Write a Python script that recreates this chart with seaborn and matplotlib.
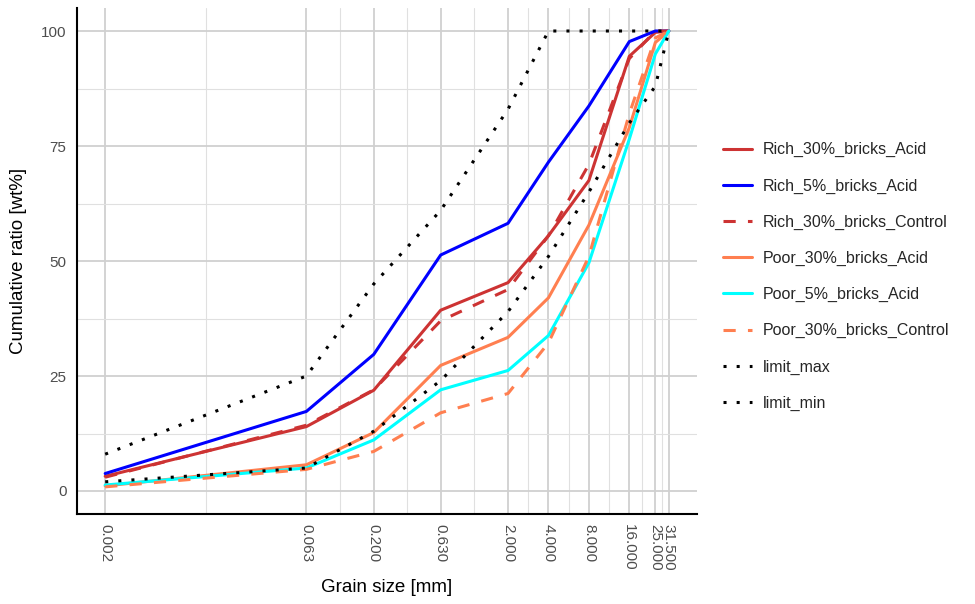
import numpy as np
import pandas as pd
import matplotlib
matplotlib.use("Agg")
import matplotlib.pyplot as plt
from matplotlib.ticker import NullFormatter
import seaborn as sns

# grain sizes [mm] and cumulative ratio [wt%]
grain_size = [0.002, 0.063, 0.2, 0.63, 2.0, 4.0, 8.0, 16.0, 25.0, 31.5]

rich_30_acid = [3.2, 14.0, 21.9, 39.3, 45.3, 55.5, 67.5, 94.5, 99.7, 100]
rich_5_acid = [3.8, 17.3, 29.7, 51.3, 58.2, 71.5, 83.7, 97.7, 100, 100]
rich_30_control = [3.0, 14.3, 22.0, 37.0, 43.8, 55.5, 71.0, 94.0, 100, 100]
poor_30_acid = [1.1, 5.7, 12.7, 27.3, 33.4, 42.0, 57.8, 79.0, 97.5, 100]
poor_5_acid = [1.3, 5.0, 11.1, 22.0, 26.2, 33.8, 49.6, 76.5, 95.0, 100]
poor_30_control = [0.9, 4.7, 8.6, 17.0, 21.2, 32.2, 51.0, 82.0, 98.5, 100]
limit_max = [8, 25, 45, 61, 83, 100, 100, 100, 100, 100]
limit_min = [2, 5, 13, 24, 39, 51, 65, 80, 88, 100]

series_names = ["Rich_30%_bricks_Acid", "Rich_5%_bricks_Acid", "Rich_30%_bricks_Control",
                "Poor_30%_bricks_Acid", "Poor_5%_bricks_Acid", "Poor_30%_bricks_Control",
                "limit_max", "limit_min"]
series_values = [rich_30_acid, rich_5_acid, rich_30_control, poor_30_acid,
                 poor_5_acid, poor_30_control, limit_max, limit_min]

colors = {"Rich_30%_bricks_Acid": "#CD3333", "Rich_5%_bricks_Acid": "#0000FF",
          "Rich_30%_bricks_Control": "#CD3333", "Poor_30%_bricks_Acid": "#FF7F50",
          "Poor_5%_bricks_Acid": "#00FFFF", "Poor_30%_bricks_Control": "#FF7F50",
          "limit_max": "#000000", "limit_min": "#000000"}
dashes = {"Rich_30%_bricks_Acid": "", "Rich_5%_bricks_Acid": "",
          "Rich_30%_bricks_Control": (4, 4), "Poor_30%_bricks_Acid": "",
          "Poor_5%_bricks_Acid": "", "Poor_30%_bricks_Control": (4, 4),
          "limit_max": (1, 3.3), "limit_min": (1, 3.3)}

df = pd.DataFrame({
    "size": np.tile(grain_size, len(series_names)),
    "ratio": np.concatenate(series_values),
    "series": np.repeat(series_names, len(grain_size)),
})

sns.set_style("white")
plt.rcParams["font.family"] = ["Liberation Sans", "DejaVu Sans"]

fig = plt.figure(figsize=(9.75, 6.04), dpi=100)
ax = fig.add_axes([77 / 975, 1 - 514 / 604, 620 / 975, 506 / 604])

sns.lineplot(data=df, x="size", y="ratio", hue="series", style="series",
             hue_order=series_names, style_order=series_names,
             palette=colors, dashes=dashes, linewidth=2.2, ax=ax,
             estimator=None, sort=False)

ax.set_xscale("log")
lo, hi = np.log10(grain_size[0]), np.log10(grain_size[-1])
pad = 0.05 * (hi - lo)
ax.set_xlim(10 ** (lo - pad), 10 ** (hi + pad))
ax.set_ylim(-5, 105)

# major ticks at the sieve sizes, minor grid midway (in log space)
ax.set_xticks(grain_size)
ax.set_xticklabels([f"{v:.3f}" for v in grain_size], rotation=-90)
mids = [np.sqrt(a * b) for a, b in zip(grain_size[:-1], grain_size[1:])]
ax.set_xticks(mids, minor=True)
ax.xaxis.set_minor_formatter(NullFormatter())
ax.set_yticks([0, 25, 50, 75, 100])
ax.set_yticks([12.5, 37.5, 62.5, 87.5], minor=True)

ax.grid(which="major", color="#D0D0D0", linewidth=1.3)
ax.grid(which="minor", color="#E0E0E0", linewidth=0.8)
ax.set_axisbelow(True)

for side in ["top", "right"]:
    ax.spines[side].set_visible(False)
for side in ["left", "bottom"]:
    ax.spines[side].set_color("black")
    ax.spines[side].set_linewidth(1.5)

ax.tick_params(which="major", length=4.5, width=1.1, color="black",
               labelsize=11, labelcolor="#4D4D4D", pad=3)
ax.tick_params(which="minor", length=0)

ax.set_xlabel("Grain size [mm]", fontsize=13.5, color="black", labelpad=6)
ax.set_ylabel("Cumulative ratio [wt%]", fontsize=13.5, color="black", labelpad=10)

handles, labels = ax.get_legend_handles_labels()
ax.legend(handles, labels, loc="center left", bbox_to_anchor=(0.7415, 1 - 276.5 / 604),
          bbox_transform=fig.transFigure, frameon=False, fontsize=11.5,
          handlelength=1.8, handletextpad=0.7, labelspacing=1.32,
          borderpad=0, borderaxespad=0)

fig.savefig("out.png", dpi=100)
